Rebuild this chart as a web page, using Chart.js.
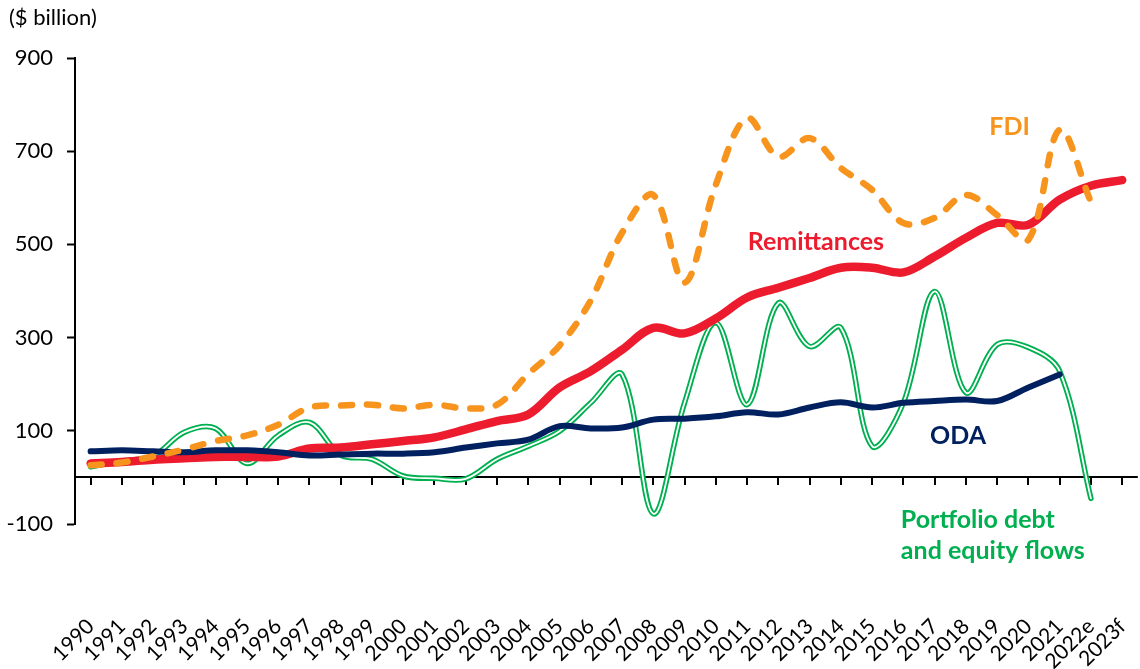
<!DOCTYPE html>
<html>
<head>
<meta charset="utf-8">
<script src="https://cdn.jsdelivr.net/npm/chart.js@4"></script>
<style>
  html, body { margin: 0; padding: 0; background: #fff; }
  #wrap { width: 1140px; height: 669px; }
</style>
</head>
<body>
<div id="wrap"><canvas id="flows" width="1140" height="669"></canvas></div>
<script>
// Financial flows to low- and middle-income countries, $ billion

const YEARS = [
  "1990", "1991", "1992", "1993", "1994", "1995", "1996", "1997", "1998", "1999",
  "2000", "2001", "2002", "2003", "2004", "2005", "2006", "2007", "2008", "2009",
  "2010", "2011", "2012", "2013", "2014", "2015", "2016", "2017", "2018", "2019",
  "2020", "2021", "2022e", "2023f",
];

const REMITTANCES = [30, 33, 38, 41, 44, 44, 45, 62, 64, 71, 78, 86, 103, 121, 135, 193, 228, 274, 321, 309,
  341, 386, 407, 428, 450, 450, 440, 474, 514, 546, 542, 596, 626, 638];

const FDI = [26, 32, 45, 60, 78, 90, 113, 150, 154, 156, 148, 156, 148, 156, 222, 283, 380, 525, 606, 418,
  628, 771, 688, 728, 664, 617, 546, 557, 606, 563, 510, 746, 591, null];

const PORTFOLIO = [23, 35, 46, 97, 105, 30, 90, 118, 48, 39, 3, -2, -3, 39, 67, 99, 160, 221, -78, 160,
  332, 156, 374, 281, 321, 67, 160, 399, 182, 285, 279, 228, -45, null];

const ODA = [56, 58, 56, 54, 58, 58, 54, 47, 49, 51, 51, 54, 64, 73, 81, 110, 105, 107, 124, 126,
  131, 140, 135, 150, 161, 150, 160, 164, 167, 164, 193, 221, null, null];

const Y_MIN = -100, Y_MAX = 900, Y_STEP = 200;

const C = {
  fdi:    "#F7941D",
  remit:  "#EC1C2E",
  oda:    "#002060",
  port:   "#00B050",
  axis:   "#000000",
};

const FONT = "Lato, 'Open Sans', sans-serif";

// series captions, anchored in data units (category index, value)
const CAPTIONS = [
  { lines: ["FDI"], at: [29.4, 752], color: C.fdi, align: "center" },
  { lines: ["Remittances"], at: [23.2, 506], color: C.remit, align: "center" },
  { lines: ["ODA"], at: [27.75, 88], color: C.oda, align: "center" },
  { lines: ["Portfolio debt", "and equity flows"], at: [25.92, -92], color: C.port, align: "left" },
];

const zeroAxis = {
  id: "zeroAxis",
  beforeDatasetsDraw(chart) {
    const { ctx, chartArea, scales: { x, y } } = chart;
    const y0 = Math.round(y.getPixelForValue(0));
    ctx.save();
    ctx.strokeStyle = C.axis;
    ctx.lineWidth = 2;
    ctx.beginPath();
    ctx.moveTo(chartArea.left, y0);
    ctx.lineTo(chartArea.right, y0);
    ctx.stroke();
    ctx.beginPath();
    x.ticks.forEach((_, i) => {
      const px = Math.round(x.getPixelForTick(i));
      ctx.moveTo(px, y0);
      ctx.lineTo(px, y0 + 8);
    });
    ctx.stroke();
    ctx.restore();
  },
};

const captions = {
  id: "captions",
  afterDraw(chart) {
    const { ctx, scales: { x, y } } = chart;
    ctx.save();
    // unit label above the value axis
    ctx.fillStyle = "#000";
    ctx.font = `22px ${FONT}`;
    ctx.textAlign = "left";
    ctx.textBaseline = "middle";
    ctx.fillText("($ billion)", 9, 18);

    ctx.font = `bold 25px ${FONT}`;
    for (const c of CAPTIONS) {
      ctx.fillStyle = c.color;
      ctx.textAlign = c.align;
      const px = x.getPixelForValue(c.at[0]);
      const py = y.getPixelForValue(c.at[1]);
      c.lines.forEach((t, i) => ctx.fillText(t, px, py + i * 31));
    }
    ctx.restore();
  },
};

function line(label, data, color, width, extra = {}) {
  return {
    label,
    data,
    borderColor: color,
    backgroundColor: color,
    borderWidth: width,
    pointRadius: 0,
    tension: 0.35,
    fill: false,
    borderCapStyle: "round",
    borderJoinStyle: "round",
    ...extra,
  };
}

new Chart(document.getElementById("flows"), {
  type: "line",
  data: {
    labels: YEARS,
    // first dataset is drawn on top
    datasets: [
      line("FDI", FDI, C.fdi, 6.5, { borderDash: [11, 15] }),
      line("ODA", ODA, C.oda, 6),
      line("Remittances", REMITTANCES, C.remit, 8.5),
      line("Portfolio (inner)", PORTFOLIO, "#FFFFFF", 1.8),
      line("Portfolio debt and equity flows", PORTFOLIO, C.port, 5.5),
    ],
  },
  options: {
    responsive: false,
    animation: false,
    events: [],
    layout: { padding: { top: 58, right: 0, left: 0, bottom: 0 } },
    plugins: {
      legend: { display: false },
      tooltip: { enabled: false },
      title: { display: false },
    },
    scales: {
      x: {
        offset: true,
        // invisible long ticks push the year labels down to the bottom
        grid: { display: true, drawOnChartArea: false, drawTicks: true, tickLength: 90, tickColor: "rgba(0,0,0,0)" },
        border: { display: false },
        ticks: {
          autoSkip: false,
          minRotation: 45,
          maxRotation: 45,
          color: "#000",
          font: { family: FONT, size: 21 },
          padding: 0,
        },
        afterFit: (s) => { s.height = 145; },
      },
      y: {
        min: Y_MIN,
        max: Y_MAX,
        ticks: {
          stepSize: Y_STEP,
          color: "#000",
          font: { family: FONT, size: 22 },
          padding: 14,
        },
        grid: { drawOnChartArea: false, drawTicks: true, tickLength: 8, tickColor: C.axis, tickWidth: 2 },
        border: { display: true, color: C.axis, width: 2 },
        afterFit: (s) => { s.width = 75; },
      },
    },
  },
  plugins: [zeroAxis, captions],
});
</script>
</body>
</html>
